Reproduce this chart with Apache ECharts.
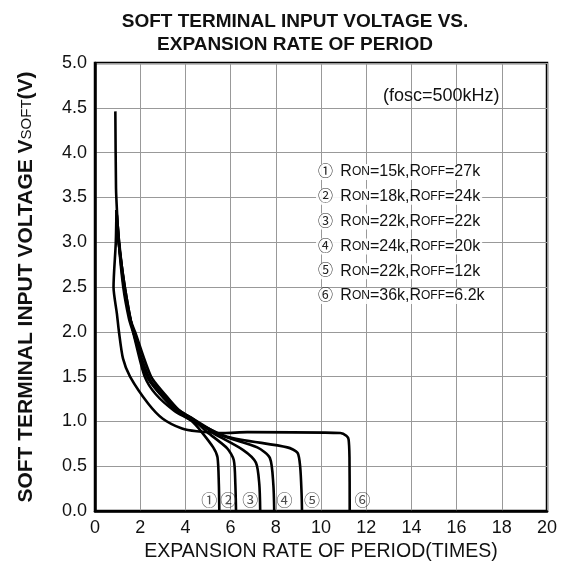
<!DOCTYPE html>
<html>
<head>
<meta charset="utf-8">
<script src="https://cdn.jsdelivr.net/npm/echarts@6/dist/echarts.min.js"></script>
<style>
html, body { margin: 0; padding: 0; background: #fff; }
#chart { width: 571px; height: 569px; }
</style>
</head>
<body>
<div id="chart"></div>
<script>
// curves: [expansion rate, Vsoft]
const curve1 = [[0.9, 4.46], [0.93, 3.6], [0.97, 3.36], [1.05, 3.0], [1.25, 2.5], [1.5, 2.15], [1.7, 1.98], [2.2, 1.5], [2.7, 1.3], [3.5, 1.12], [4.3, 1.0], [4.66, 0.9], [5.23, 0.71], [5.42, 0.6], [5.48, 0.3], [5.5, 0]]
const curve2 = [[0.95, 3.36], [1.05, 3.0], [1.28, 2.5], [1.55, 2.15], [1.77, 2.0], [2.48, 1.5], [3.1, 1.3], [3.7, 1.13], [4.3, 1.03], [4.97, 0.88], [5.85, 0.7], [6.14, 0.57], [6.21, 0.3], [6.24, 0]]
const curve3 = [[0.97, 3.3], [1.07, 3.0], [1.3, 2.5], [1.6, 2.1], [2.3, 1.5], [2.9, 1.3], [3.6, 1.12], [4.3, 1.03], [5.23, 0.87], [6.56, 0.68], [7.12, 0.54], [7.27, 0.3], [7.31, 0]]
const curve4 = [[1.0, 3.2], [1.1, 2.9], [1.32, 2.5], [1.65, 2.05], [2.4, 1.48], [3.0, 1.3], [3.6, 1.14], [4.2, 1.05], [5.54, 0.85], [7.18, 0.71], [7.74, 0.59], [7.89, 0.3], [7.93, 0]]
const curve5 = [[1.0, 3.1], [1.12, 2.85], [1.35, 2.45], [1.7, 2.0], [2.45, 1.45], [3.1, 1.25], [3.7, 1.1], [4.4, 1.0], [5.85, 0.83], [8.51, 0.71], [8.96, 0.65], [9.08, 0.49], [9.14, 0.2], [9.16, 0]]
const curve6 = [[0.95, 3.36], [0.92, 3.0], [0.82, 2.5], [0.97, 2.2], [1.06, 2.0], [1.24, 1.7], [1.55, 1.5], [2.35, 1.2], [3.0, 1.03], [3.85, 0.92], [4.5, 0.89], [5.68, 0.87], [6.74, 0.88], [10.86, 0.87], [11.12, 0.84], [11.22, 0.8], [11.26, 0.6], [11.27, 0]]
const curves = [curve1, curve2, curve3, curve4, curve5, curve6]

const circled = ['①', '②', '③', '④', '⑤', '⑥']
const tagX = [5.05, 5.9, 6.87, 8.38, 9.6, 11.84]
const tagY = [0.1, 0.1, 0.1, 0.1, 0.1, 0.1]

const ron = ['15k', '18k', '22k', '24k', '22k', '36k']
const roff = ['27k', '24k', '22k', '20k', '12k', '6.2k']

const font = 'Liberation Sans, Arial, Noto Sans CJK SC, sans-serif'

let chart = echarts.init(document.getElementById('chart'))

let lineSeries = curves.map((c, i) => ({
  name: circled[i],
  type: 'line',
  data: c,
  smooth: 0.25,
  showSymbol: false,
  silent: true,
  lineStyle: { color: '#000', width: 2.6 },
  z: 3
}))

let legendRows = ron.map((r, i) => ({
  type: 'text',
  left: 316,
  top: 164 + i * 24.8,
  z: 10,
  style: {
    text: '{c|' + circled[i] + '} {b|R}{s|ON}{b|=' + r + ',R}{s|OFF}{b|=' + roff[i] + '}',
    fontFamily: font,
    backgroundColor: 'rgba(255,255,255,0.9)',
    padding: [0, 2],
    rich: {
      c: { fontSize: 15, fontFamily: font, fill: '#222', padding: [0, 4, 0, 0] },
      b: { fontSize: 16, fontFamily: font, fill: '#111' },
      s: { fontSize: 12, fontFamily: font, fill: '#111' }
    }
  }
}))

let option = {
  animation: false,
  backgroundColor: '#fff',
  title: {
    text: 'SOFT TERMINAL INPUT VOLTAGE VS.\nEXPANSION RATE OF PERIOD',
    left: 290,
    textAlign: 'center',
    top: 5,
    textStyle: { fontFamily: font, fontSize: 19, fontWeight: 'bold', color: '#111', lineHeight: 23 }
  },
  grid: {
    left: 95, right: 24, top: 63, bottom: 58,
    show: true, borderColor: '#000', borderWidth: 2.5
  },
  xAxis: {
    type: 'value',
    min: 0, max: 20, interval: 2,
    name: 'EXPANSION RATE OF PERIOD(TIMES)',
    nameLocation: 'middle',
    nameGap: 29,
    nameTextStyle: { fontFamily: font, fontSize: 19.5, color: '#111' },
    axisLine: { lineStyle: { color: '#000', width: 2.5 } },
    axisTick: { show: false },
    axisLabel: { fontFamily: font, fontSize: 18, color: '#111', margin: 8 },
    splitLine: { lineStyle: { color: '#999', width: 1 } }
  },
  yAxis: {
    type: 'value',
    min: 0, max: 5, interval: 0.5,
    name: 'SOFT TERMINAL INPUT VOLTAGE V{s|SOFT}(V)',
    nameLocation: 'middle',
    nameGap: 58,
    nameTextStyle: {
      fontFamily: font, fontSize: 21, fontWeight: 'bold', color: '#111',
      rich: { s: { fontFamily: font, fontSize: 15, fontWeight: 'normal', color: '#111' } }
    },
    axisLine: { lineStyle: { color: '#000', width: 2.5 } },
    axisTick: { show: false },
    axisLabel: { fontFamily: font, fontSize: 18, color: '#111', margin: 8, formatter: v => v.toFixed(1) },
    splitLine: { lineStyle: { color: '#999', width: 1 } }
  },
  graphic: [
    {
      type: 'text',
      left: 383,
      top: 87,
      z: 10,
      style: { text: '(fosc=500kHz)', fontFamily: font, fontSize: 18, fill: '#111' }
    }
  ].concat(legendRows),
  series: lineSeries.concat([{
    type: 'scatter',
    data: tagX.map((x, i) => [x, tagY[i]]),
    symbolSize: 0,
    silent: true,
    label: {
      show: true,
      position: 'inside',
      formatter: p => circled[p.dataIndex],
      fontFamily: font,
      fontSize: 16,
      color: '#222'
    },
    z: 5
  }])
}

chart.setOption(option)
</script>
</body>
</html>
